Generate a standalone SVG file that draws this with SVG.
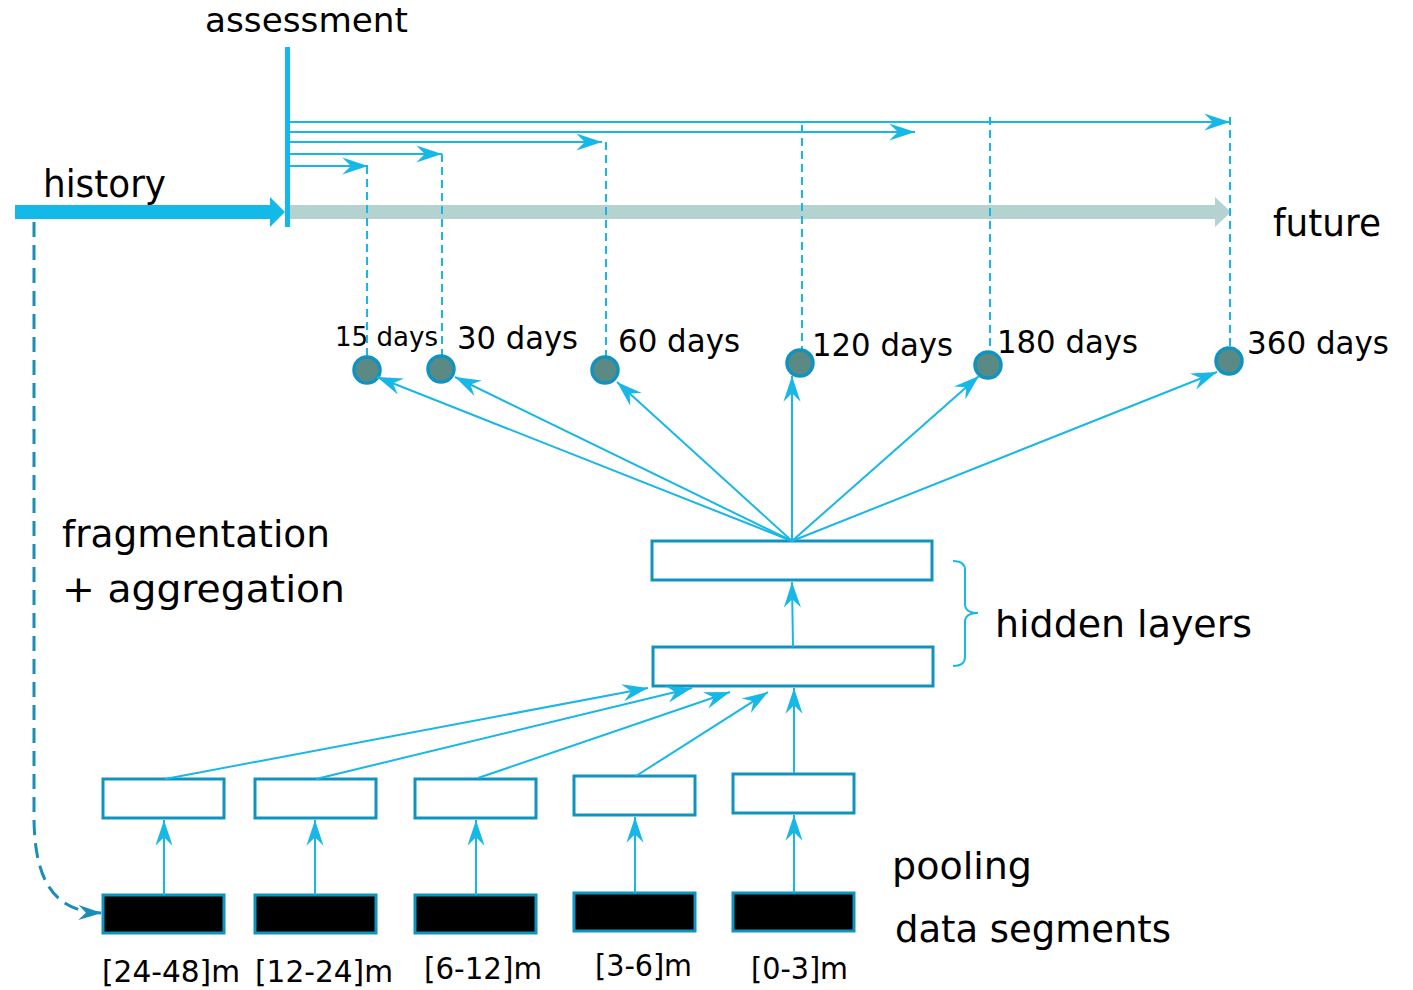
<svg xmlns="http://www.w3.org/2000/svg" width="1413" height="990" viewBox="0 0 1413 990">
  <style>
    .lbl { font-family: "DejaVu Sans", "Liberation Sans", sans-serif; fill: #000; }
    .link { stroke: #17b7e6; stroke-width: 2; fill: none; }
    .drop { stroke: #17b7e6; stroke-width: 2; stroke-dasharray: 8 5; fill: none; }
    .box { fill: #fff; stroke: #1093bf; stroke-width: 3; }
    .seg { fill: #000; stroke: #1093bf; stroke-width: 3; }
    .out { fill: #5b8a85; stroke: #1093bf; stroke-width: 3.5; }
  </style>
  <defs>
    <marker id="head" markerUnits="userSpaceOnUse" markerWidth="30" markerHeight="20" viewBox="-26 -9 28 18" refX="0" refY="0" orient="auto">
      <path d="M0,0 L-24,-8 L-16,0 L-24,8 Z" fill="#17b7e6"/>
    </marker>
    <marker id="headDark" markerUnits="userSpaceOnUse" markerWidth="30" markerHeight="20" viewBox="-26 -9 28 18" refX="0" refY="0" orient="auto">
      <path d="M0,0 L-22,-7 L-15,0 L-22,7 Z" fill="#1a8db8"/>
    </marker>
  </defs>

  <!-- timeline -->
  <g id="timeline">
    <rect x="289" y="205" width="926" height="14" fill="#b3d2d0"/>
    <polygon points="1215,197 1231,212 1215,227" fill="#b3d2d0"/>
    <rect x="15" y="205" width="256" height="14" fill="#13b9e7"/>
    <polygon points="270,197 285,212 270,227" fill="#13b9e7"/>
    <rect x="285" y="47" width="5" height="180" fill="#13b9e7"/>
  </g>

  <!-- horizons: arrows from the assessment line, dropped to each output -->
  <g id="horizons">
    <line class="link" x1="290" y1="122" x2="1230" y2="122" marker-end="url(#head)"/>
    <line class="link" x1="290" y1="132" x2="915" y2="132" marker-end="url(#head)"/>
    <line class="link" x1="290" y1="142" x2="602" y2="142" marker-end="url(#head)"/>
    <line class="link" x1="290" y1="154" x2="442" y2="154" marker-end="url(#head)"/>
    <line class="link" x1="290" y1="166" x2="368" y2="166" marker-end="url(#head)"/>
    <line class="drop" x1="367" y1="166" x2="367" y2="356"/>
    <line class="drop" x1="442" y1="154" x2="442" y2="355"/>
    <line class="drop" x1="606" y1="142" x2="606" y2="357"/>
    <line class="drop" x1="802" y1="125" x2="802" y2="350"/>
    <line class="drop" x1="990" y1="117" x2="990" y2="352"/>
    <line class="drop" x1="1230" y1="117" x2="1230" y2="348"/>
  </g>

  <!-- outputs -->
  <g id="out-15"><circle class="out" cx="367" cy="370" r="13"/></g>
  <g id="out-30"><circle class="out" cx="441" cy="369" r="13"/></g>
  <g id="out-60"><circle class="out" cx="605" cy="370" r="13"/></g>
  <g id="out-120"><circle class="out" cx="800" cy="363" r="13"/></g>
  <g id="out-180"><circle class="out" cx="988" cy="365" r="13"/></g>
  <g id="out-360"><circle class="out" cx="1229" cy="361" r="13"/></g>

  <!-- hidden layers -->
  <g id="hidden-2"><rect class="box" x="652" y="541" width="280" height="39"/></g>
  <g id="hidden-1"><rect class="box" x="653" y="647" width="280" height="39"/></g>
  <g id="brace">
    <path d="M953,561 Q965,561 965,570 L965,604 Q965,613 978,613 Q965,613 965,622 L965,657 Q965,666 953,666" fill="none" stroke="#17b7e6" stroke-width="2"/>
  </g>

  <!-- pooling boxes -->
  <g id="pool-1"><rect class="box" x="103" y="779" width="121" height="39"/></g>
  <g id="pool-2"><rect class="box" x="255" y="779" width="121" height="39"/></g>
  <g id="pool-3"><rect class="box" x="415" y="779" width="121" height="39"/></g>
  <g id="pool-4"><rect class="box" x="574" y="776" width="121" height="39"/></g>
  <g id="pool-5"><rect class="box" x="733" y="774" width="121" height="39"/></g>

  <!-- data segments -->
  <g id="seg-1"><rect class="seg" x="103" y="895" width="121" height="38"/></g>
  <g id="seg-2"><rect class="seg" x="255" y="895" width="121" height="38"/></g>
  <g id="seg-3"><rect class="seg" x="415" y="895" width="121" height="38"/></g>
  <g id="seg-4"><rect class="seg" x="574" y="893" width="121" height="38"/></g>
  <g id="seg-5"><rect class="seg" x="733" y="893" width="121" height="38"/></g>

  <!-- connectors -->
  <g id="connectors">
    <line class="link" x1="792" y1="541" x2="377" y2="377" marker-end="url(#head)"/>
    <line class="link" x1="792" y1="541" x2="455" y2="377" marker-end="url(#head)"/>
    <line class="link" x1="792" y1="541" x2="617" y2="382" marker-end="url(#head)"/>
    <line class="link" x1="792" y1="541" x2="792" y2="376" marker-end="url(#head)"/>
    <line class="link" x1="792" y1="541" x2="979" y2="376" marker-end="url(#head)"/>
    <line class="link" x1="792" y1="541" x2="1217" y2="372" marker-end="url(#head)"/>
    <line class="link" x1="793" y1="647" x2="792" y2="582" marker-end="url(#head)"/>
    <line class="link" x1="165" y1="779" x2="648" y2="688" marker-end="url(#head)"/>
    <line class="link" x1="316" y1="779" x2="692" y2="688" marker-end="url(#head)"/>
    <line class="link" x1="478" y1="778" x2="730" y2="692" marker-end="url(#head)"/>
    <line class="link" x1="636" y1="776" x2="768" y2="692" marker-end="url(#head)"/>
    <line class="link" x1="794" y1="773" x2="794" y2="688" marker-end="url(#head)"/>
    <line class="link" x1="164" y1="895" x2="164" y2="820" marker-end="url(#head)"/>
    <line class="link" x1="315" y1="895" x2="315" y2="820" marker-end="url(#head)"/>
    <line class="link" x1="476" y1="895" x2="476" y2="820" marker-end="url(#head)"/>
    <line class="link" x1="635" y1="893" x2="635" y2="817" marker-end="url(#head)"/>
    <line class="link" x1="794" y1="893" x2="794" y2="815" marker-end="url(#head)"/>
    <path d="M34,222 L34,820 C35,878 52,912 102,913" fill="none" stroke="#1a8db8" stroke-width="3" stroke-dasharray="15 8" marker-end="url(#headDark)"/>
  </g>

  <!-- labels -->
  <g id="labels">
    <text class="lbl" x="205" y="32" font-size="33" textLength="203" lengthAdjust="spacingAndGlyphs">assessment</text>
    <text class="lbl" x="43" y="197" font-size="37" textLength="123" lengthAdjust="spacingAndGlyphs">history</text>
    <text class="lbl" x="1273" y="236" font-size="37" textLength="108" lengthAdjust="spacingAndGlyphs">future</text>
    <text class="lbl" x="335" y="346" font-size="27" textLength="103" lengthAdjust="spacingAndGlyphs">15 days</text>
    <text class="lbl" x="457" y="349" font-size="32" textLength="121" lengthAdjust="spacingAndGlyphs">30 days</text>
    <text class="lbl" x="618" y="352" font-size="32" textLength="122" lengthAdjust="spacingAndGlyphs">60 days</text>
    <text class="lbl" x="812" y="356" font-size="32" textLength="141" lengthAdjust="spacingAndGlyphs">120 days</text>
    <text class="lbl" x="997" y="353" font-size="32" textLength="141" lengthAdjust="spacingAndGlyphs">180 days</text>
    <text class="lbl" x="1247" y="354" font-size="32" textLength="142" lengthAdjust="spacingAndGlyphs">360 days</text>
    <text class="lbl" x="62" y="547" font-size="38" textLength="268" lengthAdjust="spacingAndGlyphs">fragmentation</text>
    <text class="lbl" x="62" y="602" font-size="38" textLength="283" lengthAdjust="spacingAndGlyphs">+ aggregation</text>
    <text class="lbl" x="995" y="637" font-size="38" textLength="257" lengthAdjust="spacingAndGlyphs">hidden layers</text>
    <text class="lbl" x="892" y="879" font-size="38" textLength="140" lengthAdjust="spacingAndGlyphs">pooling</text>
    <text class="lbl" x="895" y="942" font-size="38" textLength="276" lengthAdjust="spacingAndGlyphs">data segments</text>
    <text class="lbl" x="102" y="982" font-size="31" textLength="138" lengthAdjust="spacingAndGlyphs">[24-48]m</text>
    <text class="lbl" x="255" y="982" font-size="31" textLength="138" lengthAdjust="spacingAndGlyphs">[12-24]m</text>
    <text class="lbl" x="424" y="979" font-size="31" textLength="118" lengthAdjust="spacingAndGlyphs">[6-12]m</text>
    <text class="lbl" x="595" y="976" font-size="31" textLength="97" lengthAdjust="spacingAndGlyphs">[3-6]m</text>
    <text class="lbl" x="751" y="979" font-size="31" textLength="97" lengthAdjust="spacingAndGlyphs">[0-3]m</text>
  </g>
</svg>
